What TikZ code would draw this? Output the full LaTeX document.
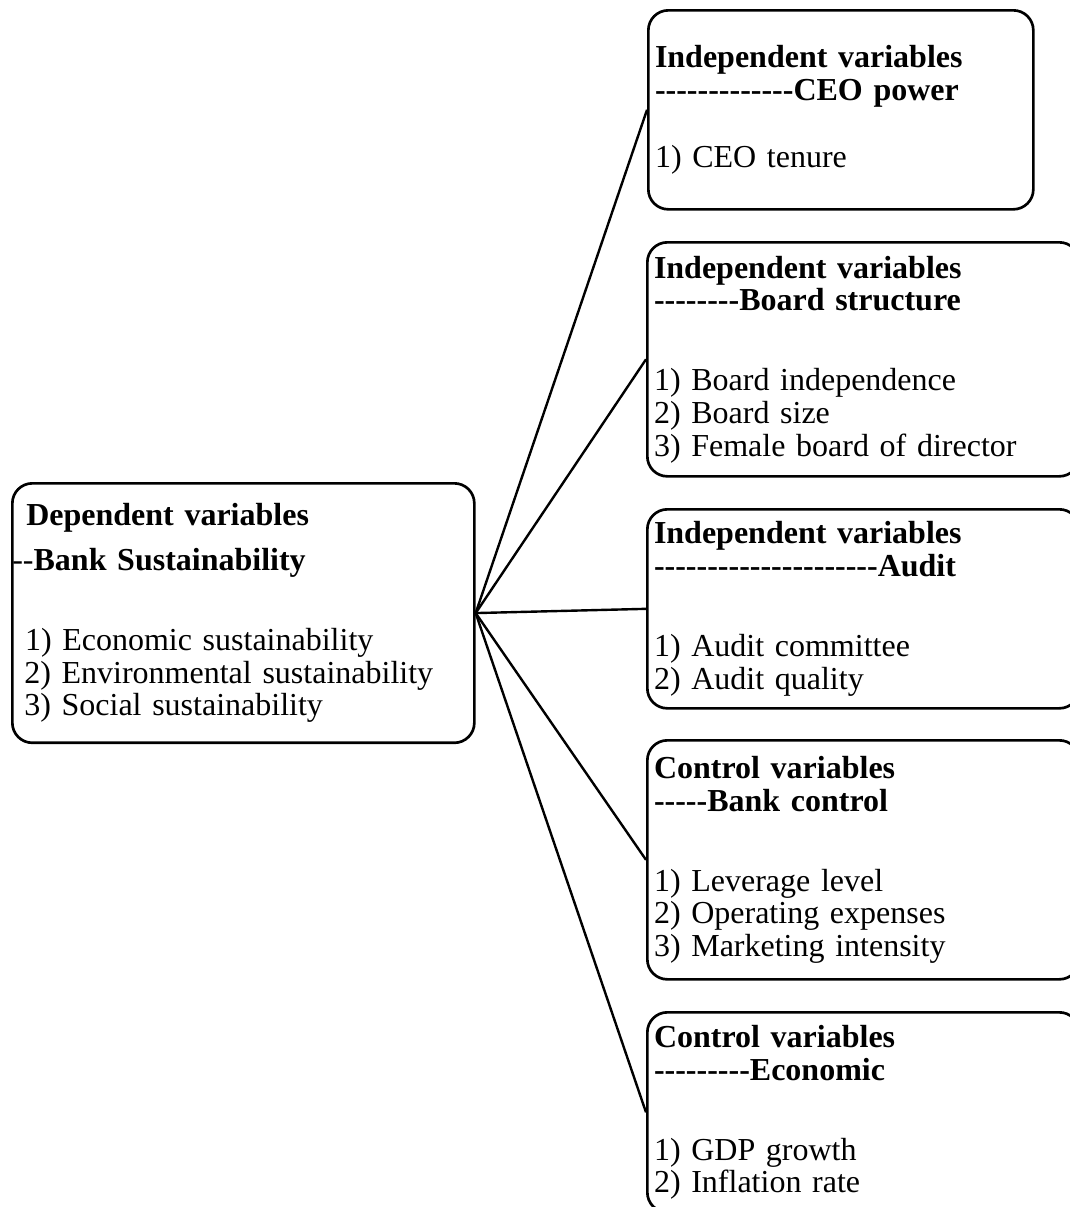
\documentclass[tikz,border=0pt]{standalone}
\usepackage{fontspec}
\setmainfont{Liberation Serif}
\usepackage{tikz}
\newcommand{\dashrun}[1]{\foreach \k in {1,...,#1}{-\kern0pt}}

\begin{document}
\begin{tikzpicture}[x=0.75pt,y=-0.75pt]
            \tikzstyle{every node}+=[font=\fontsize{24}{24.5}\selectfont]
            \tikzstyle{varbox}=[draw=black, line width=2pt, rounded corners=15pt, anchor=north west, inner ysep=0pt, align=left]
            \tikzstyle{link}=[black, line width=1.8pt]
            \useasboundingbox (0,0) rectangle (1070,1207);
            \clip (0,0) rectangle (1070,1207);
            \node [varbox, inner xsep=0pt, text width=346.5pt, minimum width=346.5pt, minimum height=194.6pt] (dep) at (11,482)
                {\hspace*{10.5pt}\textbf{Dependent variables}\\[9.25pt]
                 -\kern0pt-\textbf{Bank Sustainability}\\[35.5pt]
                 \hspace*{9.5pt}1) Economic sustainability\\
                 \hspace*{9pt}2) Environmental sustainability\\
                 \hspace*{9pt}3) Social sustainability};
            \node [varbox, inner xsep=5pt, text width=278.75pt, minimum width=288.75pt, minimum height=149.25pt] (ceo) at (647,9)
                {\textbf{Independent variables}\\
                 \textbf{\dashrun{13}CEO power}\\[25.75pt]
                 1) CEO tenure};
            \node [varbox, inner xsep=5pt, text width=314pt, minimum width=324pt, minimum height=175.5pt] (board) at (646,241)
                {\textbf{Independent variables}\\
                 \textbf{\dashrun{8}Board structure}\\[35.5pt]
                 1) Board independence\\
                 2) Board size\\
                 3) Female board of director};
            \node [varbox, inner xsep=5pt, text width=314pt, minimum width=324pt, minimum height=149.25pt] (audit) at (646,508)
                {\textbf{Independent variables}\\
                 \textbf{\dashrun{21}Audit}\\[35.5pt]
                 1) Audit committee\\
                 2) Audit quality};
            \node [varbox, inner xsep=5pt, text width=314pt, minimum width=324pt, minimum height=179.25pt] (bankctl) at (646,739)
                {\textbf{Control variables}\\
                 \textbf{\dashrun{5}Bank control}\\[35.5pt]
                 1) Leverage level\\
                 2) Operating expenses\\
                 3) Marketing intensity};
            \node [varbox, inner xsep=5pt, text width=314pt, minimum width=324pt, minimum height=150pt] (econ) at (646,1011)
                {\textbf{Control variables}\\
                 \textbf{\dashrun{9}Economic}\\[35.5pt]
                 1) GDP growth\\
                 2) Inflation rate};
            \draw [link] (dep.east) -- (ceo.west);
            \draw [link] (dep.east) -- (board.west);
            \draw [link] (dep.east) -- (audit.west);
            \draw [link] (dep.east) -- (bankctl.west);
            \draw [link] (dep.east) -- (econ.west);
\end{tikzpicture}
\end{document}
